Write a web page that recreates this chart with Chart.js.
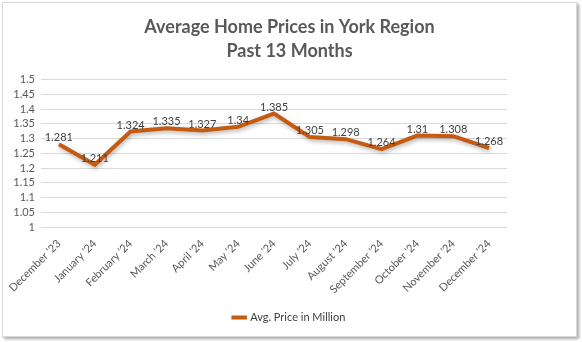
<!DOCTYPE html>
<html>
<head>
<meta charset="utf-8">
<script src="https://cdn.jsdelivr.net/npm/chart.js@4/dist/chart.umd.min.js"></script>
<style>
  html, body { margin: 0; padding: 0; background: #fff; }
  #wrap {
    position: absolute; left: 2px; top: 2px; width: 573px; height: 333px;
    border: 1px solid #d9d9d9; background: #fff;
    box-shadow: 2px 2px 3px rgba(0,0,0,0.35);
  }
  #prices { display: block; }
</style>
</head>
<body>
<div id="wrap"><canvas id="prices" width="573" height="333"></canvas></div>
<script>
var months = ["December '23", "January '24", "February '24", "March '24", "April '24", "May '24",
              "June '24", "July '24", "August '24", "September '24", "October '24", "November '24", "December '24"];
var avgPrice = [1.281, 1.211, 1.324, 1.335, 1.327, 1.34, 1.385, 1.305, 1.298, 1.264, 1.31, 1.308, 1.268];
var yTicks = [1, 1.05, 1.1, 1.15, 1.2, 1.25, 1.3, 1.35, 1.4, 1.45, 1.5];

var lineShadow = {
    id: 'lineShadow',
    beforeDatasetsDraw: function (chart) {
        var c = chart.ctx;
        c.save();
        c.shadowColor = 'rgba(0,0,0,0.3)';
        c.shadowBlur = 4;
        c.shadowOffsetX = 1;
        c.shadowOffsetY = 2;
    },
    afterDatasetsDraw: function (chart) {
        chart.ctx.restore();
    }
};

var valueLabels = {
    id: 'valueLabels',
    afterDatasetsDraw: function (chart) {
        var c = chart.ctx;
        var meta = chart.getDatasetMeta(0);
        c.save();
        c.font = '11px Lato';
        c.fillStyle = '#404040';
        c.textAlign = 'center';
        c.textBaseline = 'bottom';
        meta.data.forEach(function (pt, i) {
            c.fillText(String(avgPrice[i]), pt.x, pt.y - 1);
        });
        c.restore();
    }
};

var ctx = document.getElementById('prices').getContext('2d');
var graphic = new Chart(ctx, {
    type: 'line',
    data: {
        labels: months,
        datasets: [{
            label: "Avg. Price in Million",
            data: avgPrice,
            borderColor: '#C55A11',
            backgroundColor: '#C55A11',
            borderWidth: 4,
            pointRadius: 0,
            tension: 0
        }]
    },
    options: {
        responsive: false,
        animation: false,
        layout: { padding: { left: 0, right: 0, top: 8, bottom: 3 } },
        plugins: {
            title: {
                display: true,
                text: ["Average Home Prices in York Region", "Past 13 Months"],
                color: '#595959',
                font: { family: 'Lato', size: 18, weight: 'bold', lineHeight: 1.35 },
                padding: { top: 4, bottom: 16 }
            },
            legend: {
                position: 'bottom',
                labels: {
                    usePointStyle: true,
                    pointStyle: 'line',
                    boxWidth: 26,
                    color: '#404040',
                    font: { family: 'Lato', size: 11 },
                    padding: 6
                }
            },
            tooltip: { enabled: false }
        },
        scales: {
            x: {
                offset: true,
                grid: { display: false },
                border: { display: false },
                ticks: {
                    minRotation: 45, maxRotation: 45,
                    autoSkip: false,
                    color: '#595959',
                    font: { family: 'Lato', size: 11 },
                    padding: 2
                },
                afterFit: function (scale) { scale.height = 79; }
            },
            y: {
                min: 1, max: 1.5,
                afterBuildTicks: function (scale) {
                    scale.ticks = yTicks.map(function (v) { return { value: v }; });
                },
                grid: { color: '#d9d9d9', drawTicks: false },
                border: { display: false },
                ticks: {
                    autoSkip: false,
                    color: '#595959',
                    font: { family: 'Lato', size: 11 },
                    padding: 6,
                    callback: function (v) { return String(v); }
                },
                afterFit: function (scale) { scale.width = 38; }
            },
            // empty right-hand axis keeps the plot narrower than the title row
            yRight: {
                position: 'right',
                display: true,
                grid: { display: false, drawTicks: false },
                border: { display: false },
                ticks: { display: false },
                afterFit: function (scale) { scale.width = 69; }
            }
        }
    },
    plugins: [lineShadow, valueLabels]
});
</script>
</body>
</html>
